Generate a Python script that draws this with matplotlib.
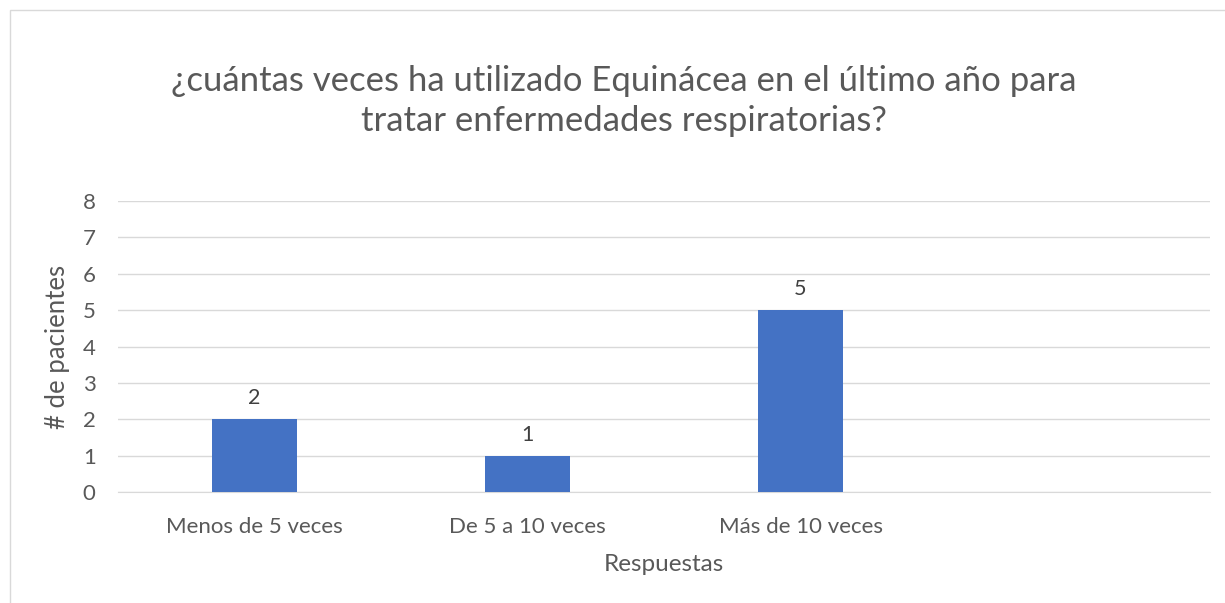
import matplotlib.pyplot as plt
from matplotlib.patches import Rectangle

categorias = ['Menos de 5 veces', 'De 5 a 10 veces', 'Más de 10 veces', '']
pacientes = [2, 1, 5, None]
etiquetas = ['2', '1', '5', '']

plt.rcParams['font.family'] = ['Lato', 'DejaVu Sans']

fig = plt.figure(figsize=(12.25, 6.03), dpi=100)
ax = fig.add_axes([0.0963, 0.184, 0.8915, 0.4826])

# borde del gráfico
fig.patches.append(Rectangle((0.008, -0.01), 1.0, 0.993, transform=fig.transFigure,
                             fill=False, edgecolor='#d9d9d9', linewidth=1))

x = range(len(categorias))
valores = [v if v is not None else 0 for v in pacientes]
barras = ax.bar(x, valores, width=0.31, color='#4472c4', zorder=3)
for i, v in enumerate(pacientes):
    if v is not None:
        ax.text(i, v + 0.3, etiquetas[i], ha='center', va='bottom', fontsize=15.5, color='#404040')

ax.set_xlim(-0.5, len(categorias) - 0.5)
ax.set_ylim(0, 8)
ax.set_yticks(range(0, 9))
ax.set_xticks(list(x))
ax.set_xticklabels(categorias)
ax.grid(axis='y', color='#d9d9d9', linewidth=1, zorder=0)
for s in ['top', 'right', 'left']:
    ax.spines[s].set_visible(False)
ax.spines['bottom'].set_color('#d9d9d9')
ax.tick_params(axis='both', length=0, labelsize=16, colors='#595959')
ax.tick_params(axis='x', pad=18)
ax.tick_params(axis='y', pad=16)

ax.set_xlabel('Respuestas', fontsize=17.5, color='#595959', labelpad=12)
ax.set_ylabel('# de pacientes', fontsize=18.5, color='#595959', labelpad=9)

fig.text(0.509, 0.832, '¿cuántas veces ha utilizado Equinácea en el último año para\ntratar enfermedades respiratorias?',
         ha='center', va='center', fontsize=25, color='#595959', linespacing=1.3)

fig.savefig('out.png', dpi=100)
